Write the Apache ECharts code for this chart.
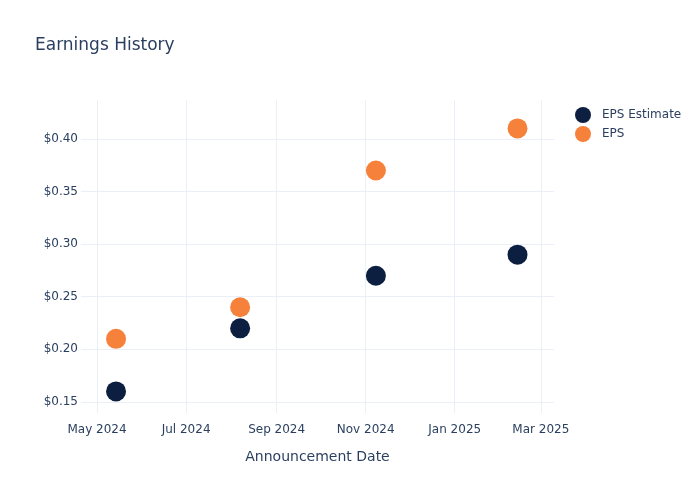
<!DOCTYPE html>
<html>
<head>
<meta charset="utf-8">
<script src="https://cdn.jsdelivr.net/npm/echarts@6/dist/echarts.min.js"></script>
<style>html,body{margin:0;padding:0;background:#fff}#c{width:700px;height:500px}</style>
</head>
<body>
<div id="c"></div>
<script>
const dates = ['2024-05-14', '2024-08-07', '2024-11-08', '2025-02-13'];
const epsEstimate = [0.16, 0.22, 0.27, 0.29];
const eps = [0.21, 0.24, 0.37, 0.41];
const xTicks = ['2024-05-01', '2024-07-01', '2024-09-01', '2024-11-01', '2025-01-01', '2025-03-01'];
const yTicks = [0.15, 0.20, 0.25, 0.30, 0.35, 0.40];

const font = 'DejaVu Sans';
const txt = '#2a3f5f';
const grid = '#ebf0f8';
const ts = s => new Date(s + 'T00:00:00Z').getTime();
const months = ['Jan','Feb','Mar','Apr','May','Jun','Jul','Aug','Sep','Oct','Nov','Dec'];

const chart = echarts.init(document.getElementById('c'), null, {renderer: 'canvas'});
chart.setOption({
  animation: false,
  backgroundColor: '#fff',
  textStyle: {fontFamily: font},
  title: {
    text: 'Earnings History', left: 30, top: 32,
    textStyle: {fontFamily: font, fontSize: 17, fontWeight: 'normal', color: txt}
  },
  legend: {
    orient: 'vertical', left: 570, top: 102, itemGap: 3,
    itemWidth: 28, itemHeight: 16, icon: 'circle',
    textStyle: {fontFamily: font, fontSize: 12, color: txt},
    data: ['EPS Estimate', 'EPS']
  },
  grid: {left: 81, right: 146, top: 100, bottom: 87, containLabel: false},
  xAxis: {
    type: 'value',
    min: ts('2024-04-20'), max: ts('2025-03-10'),
    name: 'Announcement Date', nameLocation: 'middle', nameGap: 37,
    nameTextStyle: {fontFamily: font, fontSize: 14, color: txt},
    axisLine: {show: false},
    axisTick: {show: false, customValues: xTicks.map(ts)},
    axisLabel: {
      customValues: xTicks.map(ts), margin: 11,
      fontFamily: font, fontSize: 12, color: txt,
      formatter: v => { const d = new Date(v); return months[d.getUTCMonth()] + ' ' + d.getUTCFullYear(); }
    },
    splitLine: {show: true, lineStyle: {color: grid, width: 1}}
  },
  yAxis: {
    type: 'value', min: 0.1395, max: 0.437,
    axisLine: {show: false},
    axisTick: {show: false, customValues: yTicks},
    axisLabel: {
      customValues: yTicks, margin: 3,
      fontFamily: font, fontSize: 12, color: txt,
      formatter: v => '$' + v.toFixed(2)
    },
    splitLine: {show: true, lineStyle: {color: grid, width: 1}}
  },
  series: [
    {name: 'EPS Estimate', type: 'scatter', symbolSize: 20,
     itemStyle: {color: '#0c1f40', opacity: 1},
     data: dates.map((d, i) => [ts(d), epsEstimate[i]])},
    {name: 'EPS', type: 'scatter', symbolSize: 20,
     itemStyle: {color: '#f5813a', opacity: 1},
     data: dates.map((d, i) => [ts(d), eps[i]])}
  ]
});
</script>
</body>
</html>
